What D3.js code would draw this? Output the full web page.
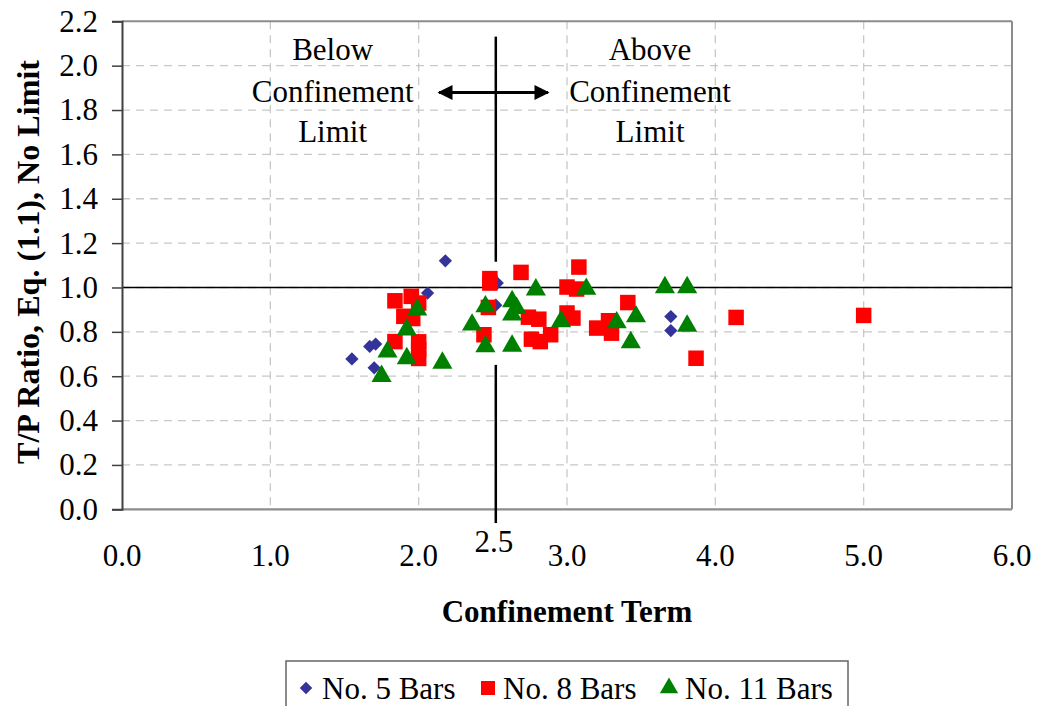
<!DOCTYPE html>
<html>
<head>
<meta charset="utf-8">
<script src="https://cdn.jsdelivr.net/npm/d3@7"></script>
<style>
  html, body { margin: 0; padding: 0; background: #fff; }
  svg { display: block; font-family: "Liberation Serif", "Times New Roman", serif; }
</style>
</head>
<body>
<svg id="chart" width="1037" height="706"></svg>
<script>
// Tick values along each axis
const xTicks = [0, 1, 2, 3, 4, 5, 6];
const yTicks = [0.0, 0.2, 0.4, 0.6, 0.8, 1.0, 1.2, 1.4, 1.6, 1.8, 2.0, 2.2];

// Series: [confinement term, T/P ratio]
const bars5 = [
  [2.18, 1.12], [2.06, 0.975], [1.67, 0.734], [1.71, 0.745], [1.55, 0.678],
  [1.70, 0.638], [2.53, 1.02], [2.52, 0.92], [3.70, 0.869], [3.70, 0.806]
];
const bars8 = [
  [1.84, 0.94], [1.95, 0.96], [2.00, 0.93], [1.90, 0.87], [1.96, 0.86],
  [1.84, 0.756], [2.00, 0.755], [2.00, 0.72], [2.00, 0.68],
  [2.48, 1.04], [2.48, 1.02], [2.69, 1.068], [2.47, 0.91], [2.44, 0.787],
  [2.74, 0.866], [2.81, 0.857], [2.76, 0.767], [2.82, 0.756], [2.89, 0.787],
  [3.08, 1.092], [3.00, 1.002], [3.065, 0.993], [3.00, 0.885], [3.04, 0.862],
  [3.41, 0.932], [3.20, 0.817], [3.28, 0.85], [3.30, 0.794], [3.87, 0.681],
  [4.14, 0.865], [5.00, 0.874]
];
const bars11 = [
  [1.99, 0.90], [1.92, 0.81], [1.79, 0.71], [1.92, 0.68], [2.16, 0.66],
  [1.75, 0.60], [2.36, 0.832], [2.79, 0.99], [2.45, 0.914], [2.63, 0.937],
  [2.66, 0.907], [2.63, 0.877], [2.96, 0.847], [2.45, 0.734], [2.63, 0.737],
  [3.13, 0.993], [3.66, 1.00], [3.81, 1.00], [3.335, 0.842], [3.465, 0.869],
  [3.43, 0.752], [3.81, 0.827]
];

const seriesNames = ["No. 5 Bars", "No. 8 Bars", "No. 11 Bars"];
const seriesColors = ["#333399", "#FF0000", "#008000"];

// Confinement limit and the reference ratio
const limitX = 2.52;
const limitLabel = "2.5";
const refY = 1.0;

const svg = d3.select("#chart");
const m = { left: 122, top: 21.3, right: 1012, bottom: 509.3 };

const x = d3.scaleLinear().domain([0, 6]).range([m.left, m.right]);
const y = d3.scaleLinear().domain([0, 2.2]).range([m.bottom, m.top]);

// Dashed grid
const grid = svg.append("g");
grid.selectAll("line.gx").data(xTicks.filter(t => t > 0 && t < 6)).join("line")
  .attr("x1", d => x(d)).attr("x2", d => x(d))
  .attr("y1", m.top).attr("y2", m.bottom)
  .attr("stroke", "#c8c8c8").attr("stroke-width", 1.3).attr("stroke-dasharray", "8,6");
grid.selectAll("line.gy").data(yTicks.filter(t => t > 0 && t < 2.2)).join("line")
  .attr("x1", m.left).attr("x2", m.right)
  .attr("y1", d => y(d)).attr("y2", d => y(d))
  .attr("stroke", "#c8c8c8").attr("stroke-width", 1.3).attr("stroke-dasharray", "8,6");

// Plot-area frame
svg.append("line").attr("x1", m.left).attr("x2", m.right).attr("y1", m.top).attr("y2", m.top)
  .attr("stroke", "#8c8c8c").attr("stroke-width", 2);
svg.append("line").attr("x1", m.right).attr("x2", m.right).attr("y1", m.top).attr("y2", m.bottom)
  .attr("stroke", "#8c8c8c").attr("stroke-width", 2);
svg.append("line").attr("x1", m.left).attr("x2", m.right).attr("y1", m.bottom).attr("y2", m.bottom)
  .attr("stroke", "#8c8c8c").attr("stroke-width", 2.2);

// Reference line at ratio 1.0
svg.append("line").attr("x1", m.left).attr("x2", m.right)
  .attr("y1", y(refY)).attr("y2", y(refY))
  .attr("stroke", "#000").attr("stroke-width", 1.5);

// Vertical confinement-limit line (two pieces around the data cloud)
[[2.131, 1.116], [0.651, -0.062]].forEach(([a, b]) => {
  svg.append("line").attr("x1", x(limitX)).attr("x2", x(limitX))
    .attr("y1", y(a)).attr("y2", y(b))
    .attr("stroke", "#000").attr("stroke-width", 2.5);
});

// Y axis
const yAxis = d3.axisLeft(y).tickValues(yTicks).tickFormat(d3.format(".1f"))
  .tickSize(10).tickPadding(14);
const gy = svg.append("g").attr("transform", `translate(${m.left},0)`).call(yAxis);
gy.select(".domain").attr("stroke", "#404040").attr("stroke-width", 2);
gy.selectAll(".tick line").attr("stroke", "#404040").attr("stroke-width", 1.5);
gy.selectAll(".tick text").attr("font-family", "Liberation Serif, Times New Roman, serif")
  .attr("font-size", 31).attr("fill", "#000");

// X axis labels
const gx = svg.append("g");
gx.selectAll("text").data(xTicks).join("text")
  .attr("x", d => x(d)).attr("y", 566)
  .attr("text-anchor", "middle").attr("font-size", 31)
  .text(d => d3.format(".1f")(d));
svg.append("text").attr("x", x(limitX) - 2).attr("y", 552)
  .attr("text-anchor", "middle").attr("font-size", 31).text(limitLabel);

// Axis titles
svg.append("text").attr("x", 567).attr("y", 622)
  .attr("text-anchor", "middle").attr("font-size", 31).attr("font-weight", "bold")
  .text("Confinement Term");
svg.append("text").attr("transform", "translate(39,262) rotate(-90)")
  .attr("text-anchor", "middle").attr("font-size", 31).attr("font-weight", "bold")
  .attr("textLength", 404).attr("lengthAdjust", "spacingAndGlyphs")
  .text("T/P Ratio, Eq. (1.1), No Limit");

// Region annotations
const ann = svg.append("g").attr("font-size", 31).attr("text-anchor", "middle");
[["Below", 60], ["Confinement", 102], ["Limit", 142]].forEach(([t, yy]) =>
  ann.append("text").attr("x", x(1.42)).attr("y", yy).text(t));
[["Above", 60], ["Confinement", 102], ["Limit", 142]].forEach(([t, yy]) =>
  ann.append("text").attr("x", x(3.56)).attr("y", yy).text(t));

// Double-headed arrow
const defs = svg.append("defs");
defs.append("marker").attr("id", "ah").attr("viewBox", "0 0 10 10")
  .attr("refX", 9).attr("refY", 5).attr("markerWidth", 5.5).attr("markerHeight", 5)
  .attr("orient", "auto-start-reverse").attr("markerUnits", "strokeWidth")
  .append("path").attr("d", "M0,0 L10,5 L0,10 Z").attr("fill", "#000");
svg.append("line").attr("x1", x(2.137)).attr("x2", x(2.872))
  .attr("y1", y(1.879)).attr("y2", y(1.879))
  .attr("stroke", "#000").attr("stroke-width", 3)
  .attr("marker-start", "url(#ah)").attr("marker-end", "url(#ah)");

// Markers
const shapes = [
  d3.symbol().type(d3.symbolDiamond2).size(112),
  d3.symbol().type(d3.symbolSquare2).size(306),
  d3.symbol().type(d3.symbolTriangle2).size(290)
];
const pts = svg.append("g");
[bars5, bars8, bars11].forEach((data, i) => {
  pts.append("g").selectAll("path").data(data).join("path")
    .attr("transform", d => `translate(${x(d[0])},${y(d[1])})`)
    .attr("d", shapes[i]())
    .attr("fill", seriesColors[i]);
});

// Legend
const legendShapes = [
  d3.symbol().type(d3.symbolDiamond2).size(100),
  d3.symbol().type(d3.symbolSquare2).size(250),
  d3.symbol().type(d3.symbolTriangle2).size(240)
];
const lg = svg.append("g");
lg.append("rect").attr("x", 286).attr("y", 661).attr("width", 562).attr("height", 60)
  .attr("fill", "#fff").attr("stroke", "#666").attr("stroke-width", 1.5);
const legendItems = [
  { sx: 306, tx: 322 },
  { sx: 488, tx: 503 },
  { sx: 669, tx: 685 }
];
legendItems.forEach((it, i) => {
  lg.append("path").attr("transform", `translate(${it.sx},688)`)
    .attr("d", legendShapes[i]()).attr("fill", seriesColors[i]);
  lg.append("text").attr("x", it.tx).attr("y", 699).attr("font-size", 31)
    .text(seriesNames[i]);
});
</script>
</body>
</html>
